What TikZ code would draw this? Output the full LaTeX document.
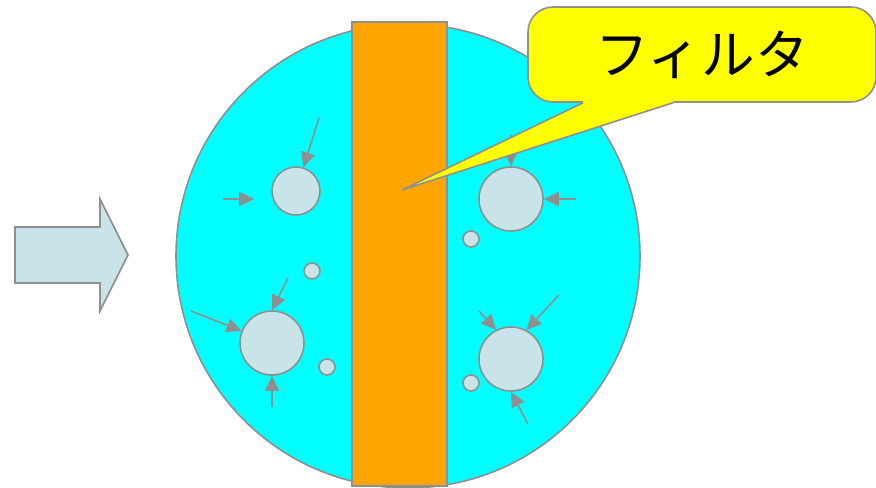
\documentclass[tikz,border=0pt]{standalone}
\usepackage{fontspec}
\newfontfamily\jpfont{Noto Sans CJK JP}
\usetikzlibrary{arrows.meta}
\definecolor{tankcyan}{HTML}{00FFFF}
\definecolor{filterorange}{HTML}{FFA500}
\definecolor{particle}{HTML}{C8E4E8}
\definecolor{outline}{HTML}{8F8F8F}
\definecolor{balloonyellow}{HTML}{FFFF00}

\begin{document}
\begin{tikzpicture}[
  border/.style={draw=outline, line width=0.9pt},
  grain/.style={circle, border, fill=particle, inner sep=0pt},
  biggrain/.style={grain, minimum size=1.28cm},
  midgrain/.style={grain, minimum size=0.96cm},
  dust/.style={grain, minimum size=0.32cm},
  push/.style={outline, line width=0.9pt, -{Triangle[length=0.3cm, width=0.28cm]}},
  balloon/.style={rectangle, rounded corners=0.5cm, border, fill=balloonyellow,
                  minimum width=6.96cm, minimum height=1.9cm,
                  font=\jpfont\fontsize{30.5}{34}\selectfont},
]
\useasboundingbox (0,0) rectangle (17.52,9.76);

\node[circle, border, fill=tankcyan, minimum size=9.28cm] (tank) at (8.16, 4.64) {};
\node[rectangle, border, fill=filterorange, minimum width=1.9cm, minimum height=9.28cm] (filter) at (7.99, 4.68) {};

\node[midgrain] (p1) at (5.92, 5.94) {};
\node[biggrain] (p2) at (5.44, 2.90) {};
\node[biggrain] (p3) at (10.22, 5.78) {};
\node[biggrain] (p4) at (10.22, 2.58) {};
\node[dust] (s1) at (6.24, 4.34) {};
\node[dust] (s2) at (6.54, 2.42) {};
\node[dust] (s3) at (9.42, 4.98) {};
\node[dust] (s4) at (9.42, 2.10) {};

\coordinate (a1) at (6.38, 7.40);
\coordinate (a2) at (4.46, 5.78);
\coordinate (a3) at (5.76, 4.20);
\coordinate (a4) at (3.82, 3.54);
\coordinate (a5) at (5.44, 1.62);
\coordinate (a6) at (10.22, 7.06);
\coordinate (a7) at (11.52, 5.78);
\coordinate (a8) at (9.58, 3.54);
\coordinate (a9) at (11.18, 3.86);
\coordinate (a10) at (10.56, 1.28);

\draw[push] (a1) -- (p1);
\draw[push, shorten >=0.34cm] (a2) -- (a2 -| p1.west);
\draw[push] (a3) -- (p2.north);
\draw[push] (a4) -- (p2);
\draw[push] (a5) -- (p2);
\draw[push] (a6) -- (p3);
\draw[push] (a7) -- (p3);
\draw[push] (a8) -- (p4.117);
\draw[push] (a9) -- (p4.62);
\draw[push] (a10) -- (p4.south);

\draw[border, fill=particle] (0.30, 5.22) -- (2.00, 5.22) -- (2.00, 5.78) -- (2.56, 4.66)
  -- (2.00, 3.54) -- (2.00, 4.10) -- (0.30, 4.10) -- cycle;

\node[balloon] (filt) at (14.04, 8.67) {\raisebox{-0.06cm}{フィルタ}};
\coordinate (tip) at (8.04, 5.96);
\fill[balloonyellow] ([xshift=-2.38cm, yshift=1.5pt]filt.south) -- ([xshift=-2.38cm]filt.south)
  -- (tip) -- ([xshift=-0.58cm]filt.south) -- ([xshift=-0.58cm, yshift=1.5pt]filt.south) -- cycle;
\draw[border] ([xshift=-2.38cm]filt.south) -- (tip) -- ([xshift=-0.58cm]filt.south);

\end{tikzpicture}
\end{document}
